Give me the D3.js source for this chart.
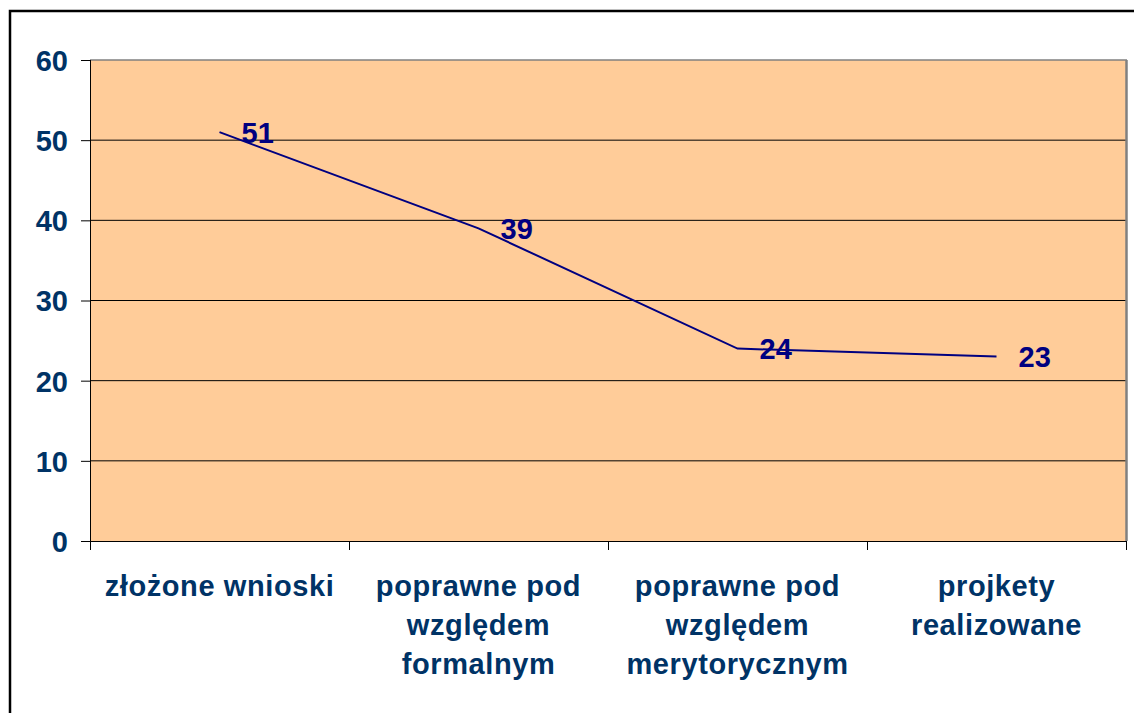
<!DOCTYPE html>
<html>
<head>
<meta charset="utf-8">
<script src="https://cdn.jsdelivr.net/npm/d3@7"></script>
<style>
  body { margin: 0; background: #fff; }
  text { font-family: "Liberation Sans", Arial, sans-serif; font-weight: bold; }
</style>
</head>
<body>
<div class="chart"></div>
<script>
const categories = [
    ["złożone wnioski"],
    ["poprawne pod", "względem", "formalnym"],
    ["poprawne pod", "względem", "merytorycznym"],
    ["projkety", "realizowane"]
];
const values = [51, 39, 24, 23];
const yTicks = [0, 10, 20, 30, 40, 50, 60];

const margin = ({ top: 60, right: 8, bottom: 172, left: 90 })
const width = 1134 - margin.left - margin.right,
    height = 713 - margin.top - margin.bottom;

const svg = d3.select(".chart").append("svg")
    .attr("width", 1134)
    .attr("height", 713);

// outer frame (clipped at right and bottom)
svg.append("rect")
    .attr("x", 10).attr("y", 11)
    .attr("width", 1200).attr("height", 800)
    .attr("fill", "none")
    .attr("stroke", "#000")
    .attr("stroke-width", 2.5);

const g = svg.append("g")
    .attr("transform", "translate(" + margin.left + "," + margin.top + ")");

const xScale = d3.scaleBand()
    .domain(d3.range(categories.length))
    .range([0, width]);
const yScale = d3.scaleLinear()
    .domain([0, 60])
    .range([height, 0]);

// plot area
g.append("rect")
    .attr("width", width)
    .attr("height", height)
    .attr("fill", "#FFCC99");

// gridlines
g.selectAll(".grid")
    .data(yTicks.filter(d => d > 0 && d < 60))
    .enter()
    .append("line")
    .attr("x1", 0).attr("x2", width)
    .attr("y1", d => yScale(d)).attr("y2", d => yScale(d))
    .attr("stroke", "#000")
    .attr("stroke-width", 1);

// plot border: gray top and right
g.append("line")
    .attr("x1", 0).attr("x2", width + 1)
    .attr("y1", 0).attr("y2", 0)
    .attr("stroke", "#808080").attr("stroke-width", 1.5);
g.append("line")
    .attr("x1", width + 0.5).attr("x2", width + 0.5)
    .attr("y1", 0).attr("y2", height)
    .attr("stroke", "#808080").attr("stroke-width", 2.5);

// y axis
const yAxis = d3.axisLeft(yScale)
    .tickValues(yTicks)
    .tickSize(9)
    .tickPadding(13);
g.append("g")
    .attr("class", "axis y-axis")
    .call(yAxis)
    .call(a => a.select(".domain").attr("stroke", "#000").attr("d", "M0.5," + height + "V0"))
    .call(a => a.selectAll("line").attr("stroke", "#000"))
    .call(a => a.selectAll("text")
        .attr("fill", "#003366")
        .style("font-size", "29px")
        .attr("dy", "0.36em"));

// x axis (ticks at category boundaries)
const bounds = d3.range(categories.length + 1).map(i => i * xScale.bandwidth());
g.append("line")
    .attr("x1", 0).attr("x2", width)
    .attr("y1", height + 0.5).attr("y2", height + 0.5)
    .attr("stroke", "#000");
g.selectAll(".xtick")
    .data(bounds)
    .enter()
    .append("line")
    .attr("x1", d => d + 0.5).attr("x2", d => d + 0.5)
    .attr("y1", height).attr("y2", height + 9)
    .attr("stroke", "#000");

// category labels
const labels = g.selectAll(".xlabel")
    .data(categories)
    .enter()
    .append("text")
    .attr("text-anchor", "middle")
    .attr("fill", "#003366")
    .style("font-size", "29px")
    .style("letter-spacing", "0.6px")
    .attr("transform", (d, i) => "translate(" + (xScale(i) + xScale.bandwidth() / 2) + "," + (height + 55) + ")");
labels.selectAll("tspan")
    .data(d => d)
    .enter()
    .append("tspan")
    .attr("x", 0)
    .attr("y", (d, i) => i * 39)
    .text(d => d);

// line
const line = d3.line()
    .x((d, i) => xScale(i) + xScale.bandwidth() / 2)
    .y(d => yScale(d));
g.append("path")
    .datum(values)
    .attr("d", line)
    .attr("fill", "none")
    .attr("stroke", "#000080")
    .attr("stroke-width", 2);

// data labels
g.selectAll(".dlabel")
    .data(values)
    .enter()
    .append("text")
    .attr("x", (d, i) => xScale(i) + xScale.bandwidth() / 2 + 22)
    .attr("y", d => yScale(d))
    .attr("dy", "0.36em")
    .attr("fill", "#000080")
    .style("font-size", "29px")
    .text(d => d);
</script>
</body>
</html>
